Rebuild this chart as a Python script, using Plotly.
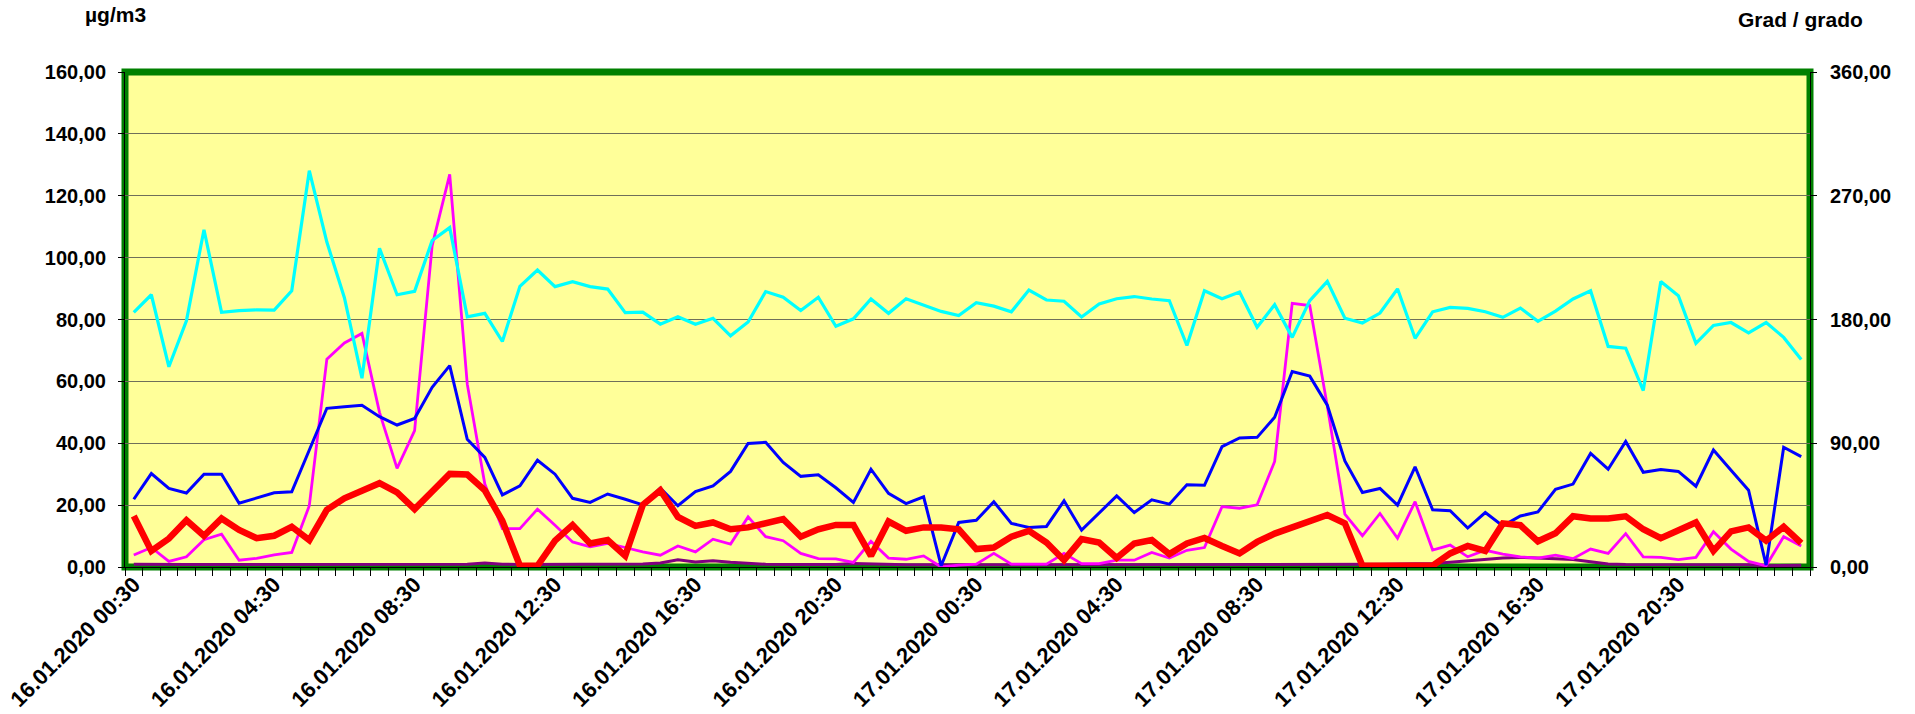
import plotly.graph_objects as go
import pandas as pd

# ---- categories (30-minute steps) ----
times = pd.date_range("2020-01-16 00:30", periods=96, freq="30min")
categories = [t.strftime("%d.%m.%Y %H:%M") for t in times]

tick_labels = [
    "16.01.2020 00:30", "16.01.2020 04:30", "16.01.2020 08:30", "16.01.2020 12:30",
    "16.01.2020 16:30", "16.01.2020 20:30", "17.01.2020 00:30", "17.01.2020 04:30",
    "17.01.2020 08:30", "17.01.2020 12:30", "17.01.2020 16:30", "17.01.2020 20:30",
]

# ---- series values (µg/m3, left axis) ----
blue_values = [
    21.9, 30.2, 25.4, 23.9, 30.0, 30.0, 20.6, 22.3, 24.0, 24.3,
    37.8, 51.3, 51.8, 52.3, 48.6, 45.9, 48.0, 58.1, 65.1, 41.3,
    35.4, 23.3, 26.2, 34.5, 30.0, 22.2, 20.9, 23.6, 21.9, 20.1,
    25.5, 19.8, 24.4, 26.2, 30.9, 39.9, 40.3, 33.8, 29.3, 29.8,
    25.6, 20.9, 31.6, 23.8, 20.5, 22.7, 0.4, 14.4, 15.1, 21.1,
    14.1, 12.8, 13.1, 21.4, 11.9, 17.6, 23.0, 17.6, 21.7, 20.3,
    26.6, 26.4, 38.9, 41.7, 41.9, 48.4, 63.2, 61.7, 52.3, 34.3,
    24.1, 25.4, 20.0, 32.4, 18.5, 18.2, 12.6, 17.6, 13.3, 16.5,
    17.8, 25.1, 26.8, 36.7, 31.6, 40.6, 30.6, 31.5, 30.9, 26.1,
    37.8, 31.3, 24.8, 0.6, 38.7, 35.7,
]

magenta_values = [
    3.9, 6.3, 1.8, 3.3, 8.8, 10.6, 2.2, 2.8, 3.9, 4.7,
    19.8, 67.2, 72.4, 75.5, 50.0, 31.9, 44.1, 103.9, 126.9, 59.1,
    26.8, 12.4, 12.4, 18.7, 13.5, 8.1, 6.5, 7.6, 6.3, 4.9,
    3.8, 6.8, 4.9, 9.0, 7.4, 16.2, 9.8, 8.5, 4.4, 2.7,
    2.6, 1.5, 8.3, 2.9, 2.5, 3.6, 0.0, 0.6, 0.9, 4.4,
    0.9, 0.9, 0.9, 4.4, 1.1, 1.1, 2.2, 2.2, 4.7, 2.9,
    5.4, 6.3, 19.5, 19.0, 20.1, 34.1, 85.2, 84.5, 52.0, 17.1,
    10.1, 17.3, 9.3, 21.1, 5.5, 7.1, 3.3, 5.4, 4.2, 3.3,
    2.9, 3.8, 2.7, 5.8, 4.4, 10.8, 3.3, 3.1, 2.4, 3.1,
    11.4, 5.8, 1.8, 0.4, 9.8, 6.8,
]

red_values = [
    16.5, 5.2, 9.2, 15.1, 10.1, 15.7, 12.0, 9.3, 10.1, 13.0,
    8.7, 18.5, 22.2, 24.4, 27.1, 24.1, 18.7, 24.4, 30.1, 29.9,
    24.8, 14.9, 0.4, 0.4, 8.5, 13.6, 7.6, 8.7, 3.6, 20.1,
    24.8, 16.2, 13.3, 14.4, 12.2, 12.8, 14.1, 15.5, 9.8, 12.2,
    13.6, 13.6, 3.6, 14.7, 11.7, 12.8, 12.8, 12.2, 5.8, 6.3,
    9.8, 11.7, 7.9, 2.2, 9.0, 7.9, 2.9, 7.6, 8.7, 4.2,
    7.6, 9.4, 6.8, 4.4, 8.1, 10.8, 12.8, 14.6, 16.8, 14.1,
    0.4, 0.4, 0.4, 0.4, 0.4, 4.4, 6.8, 5.2, 14.1, 13.5,
    8.3, 10.9, 16.4, 15.7, 15.7, 16.4, 12.2, 9.3, 11.7, 14.4,
    5.2, 11.5, 12.8, 8.5, 13.0, 7.7,
]

purple_values = [
    0.9, 0.8, 0.8, 0.8, 0.8, 0.8, 0.8, 0.8, 0.8, 0.8,
    0.8, 0.7, 0.7, 0.7, 0.8, 0.8, 0.8, 0.8, 0.8, 0.9,
    1.3, 0.9, 0.8, 0.8, 0.8, 0.8, 0.8, 0.8, 0.8, 1.0,
    1.3, 2.3, 1.6, 2.0, 1.5, 1.1, 0.9, 0.8, 0.8, 0.8,
    0.8, 1.1, 0.9, 0.8, 0.7, 0.7, 0.6, 0.7, 0.7, 0.7,
    0.7, 0.7, 0.8, 0.8, 0.8, 0.8, 0.8, 0.8, 0.8, 0.8,
    0.7, 0.7, 0.7, 0.8, 0.8, 0.8, 0.8, 0.8, 0.8, 0.8,
    0.8, 0.9, 1.0, 1.0, 1.1, 1.5, 2.0, 2.5, 2.9, 3.1,
    3.0, 2.7, 2.4, 1.8, 1.0, 0.8, 0.8, 0.8, 0.8, 0.8,
    0.9, 0.8, 0.7, 0.4, 0.6, 0.6,
]

# ---- wind direction (degrees, right axis) ----
cyan_direction = [
    185.2, 198.0, 145.6, 179.1, 245.3, 185.2, 186.5, 187.0, 186.8, 200.9,
    288.2, 236.3, 195.8, 137.3, 231.8, 198.0, 200.5, 237.4, 246.8, 182.0,
    184.5, 164.0, 204.1, 216.0, 203.9, 207.5, 203.9, 202.1, 185.0, 185.4,
    176.6, 182.0, 176.6, 180.9, 168.1, 178.2, 200.3, 196.2, 186.5, 196.2,
    175.1, 180.5, 194.9, 184.5, 195.1, 190.4, 185.9, 182.9, 192.2, 189.7,
    185.6, 201.4, 194.2, 193.3, 181.8, 191.3, 195.1, 196.7, 194.9, 193.7,
    161.1, 200.9, 195.1, 200.0, 174.4, 190.8, 167.0, 193.7, 207.7, 180.9,
    177.5, 184.7, 202.3, 166.3, 185.6, 188.8, 188.1, 185.6, 181.6, 188.3,
    178.7, 186.1, 194.9, 200.9, 160.4, 159.1, 128.3, 207.7, 197.3, 162.7,
    175.7, 177.8, 170.3, 177.8, 167.0, 151.0,
]

FONT = "Liberation Sans, Arial, sans-serif"
tickfont = dict(family=FONT, size=20, color="black", weight="bold")
xtickfont = dict(family=FONT, size=22, color="black", weight="bold")

fig = go.Figure()
fig.add_trace(go.Scatter(x=categories, y=purple_values, mode="lines",
                         line=dict(color="#800080", width=3), showlegend=False))
fig.add_trace(go.Scatter(x=categories, y=magenta_values, mode="lines",
                         line=dict(color="#FF00FF", width=2.8), showlegend=False))
fig.add_trace(go.Scatter(x=categories, y=blue_values, mode="lines",
                         line=dict(color="#0000FF", width=3), showlegend=False))
fig.add_trace(go.Scatter(x=categories, y=red_values, mode="lines",
                         line=dict(color="#FF0000", width=6.5), showlegend=False))
fig.add_trace(go.Scatter(x=categories, y=cyan_direction, mode="lines", yaxis="y2",
                         line=dict(color="#00FFFF", width=3.2), showlegend=False))

ticktext = [c if c in tick_labels else "" for c in categories]

fig.update_layout(
    width=1915, height=714,
    margin=dict(l=125, r=105, t=72, b=147, pad=0),
    paper_bgcolor="white",
    plot_bgcolor="#FFFF99",
    separators=",.",
    xaxis=dict(
        type="category", range=[-0.5, 95.5], automargin=False,
        tickmode="array", tickvals=categories, ticktext=ticktext,
        tickson="boundaries", ticks="outside", ticklen=8, tickcolor="black", tickwidth=1,
        tickangle=-45, tickfont=xtickfont, ticklabelstandoff=-5,
        showgrid=False, showline=True, linecolor="black", linewidth=1, zeroline=False,
    ),
    yaxis=dict(
        range=[0, 160], dtick=20, tick0=0, tickformat=".2f", automargin=False,
        showgrid=True, gridcolor="#6f6f5a", gridwidth=1.3,
        ticks="outside", ticklen=6, tickcolor="black",
        showline=True, linecolor="black", linewidth=1, zeroline=False,
        tickfont=tickfont, ticklabelstandoff=8,
    ),
    yaxis2=dict(
        overlaying="y", side="right", automargin=False,
        range=[0, 360], dtick=90, tick0=0, tickformat=".2f",
        showgrid=False, ticks="outside", ticklen=6, tickcolor="black",
        showline=True, linecolor="black", linewidth=1, zeroline=False,
        tickfont=tickfont, ticklabelstandoff=9,
    ),
)

fig.add_shape(type="rect", xref="x domain", yref="y domain", x0=0, x1=1, y0=0, y1=1,
              line=dict(color="#008000", width=7), layer="below")

fig.add_annotation(text="µg/m3", xref="paper", yref="paper",
                   x=(115 - 125) / 1685, y=(567 - 15) / 495,
                   xanchor="center", yanchor="middle", showarrow=False,
                   font=dict(family=FONT, size=21, color="black", weight="bold"))
fig.add_annotation(text="Grad / grado", xref="paper", yref="paper",
                   x=(1800 - 125) / 1685, y=(567 - 20) / 495,
                   xanchor="center", yanchor="middle", showarrow=False,
                   font=dict(family=FONT, size=21, color="black", weight="bold"))

fig.write_html(
    "out.html",
    config={"displayModeBar": False},
    post_script="document.body.style.margin='0px';document.body.style.overflow='hidden';",
)
